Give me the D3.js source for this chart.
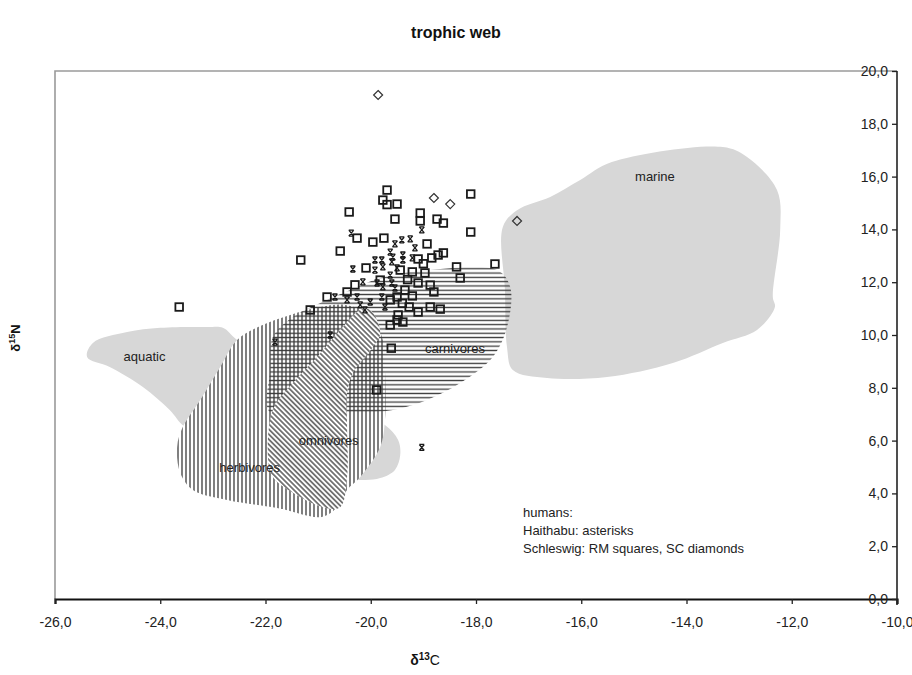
<!DOCTYPE html>
<html>
<head>
<meta charset="utf-8">
<script src="https://cdn.jsdelivr.net/npm/d3@7"></script>
<style>
  body { margin: 0; background: #fff; }
  text { font-family: Arial, "Liberation Sans", sans-serif; }
</style>
</head>
<body>
<div id="vis"></div>
<script>
// axis ticks
const x_ticks = [-26, -24, -22, -20, -18, -16, -14, -12, -10];
const y_ticks = [0, 2, 4, 6, 8, 10, 12, 14, 16, 18, 20];

// human samples [d13C, d15N]
const rm_squares = [
  [-19.69, 15.49], [-19.77, 15.11], [-19.69, 14.94], [-19.50, 14.96], [-20.41, 14.66],
  [-19.54, 14.39], [-19.06, 14.62], [-19.06, 14.32], [-18.74, 14.39], [-18.62, 14.24],
  [-18.10, 15.34], [-18.10, 13.90], [-19.96, 13.52], [-19.75, 13.67], [-20.58, 13.18],
  [-21.33, 12.84], [-20.26, 13.67], [-18.93, 13.45], [-18.62, 13.11], [-18.72, 13.03],
  [-18.37, 12.58], [-18.30, 12.16], [-17.64, 12.69], [-20.09, 12.54], [-19.10, 12.88],
  [-18.84, 12.92], [-19.21, 12.39], [-18.97, 12.35], [-20.83, 11.44], [-20.45, 11.63],
  [-18.80, 11.63], [-18.87, 11.89], [-19.10, 11.97], [-19.35, 11.70], [-19.21, 11.48],
  [-19.50, 11.44], [-21.15, 10.95], [-18.68, 10.98], [-18.87, 11.06], [-19.10, 10.87],
  [-19.27, 11.06], [-19.48, 10.76], [-19.50, 10.57], [-19.39, 10.49], [-19.63, 10.38],
  [-19.61, 9.50], [-23.64, 11.06], [-19.89, 7.92], [-19.82, 12.08], [-19.63, 11.33],
  [-19.44, 12.46], [-19.30, 12.10], [-19.00, 12.70], [-20.30, 11.90], [-19.40, 11.20]
];
const sc_diamonds = [
  [-19.86, 19.09], [-18.80, 15.19], [-18.49, 14.96], [-17.22, 14.32]
];
const haithabu_asterisks = [
  [-19.03, 13.98], [-20.37, 13.86], [-19.54, 13.45], [-19.41, 13.60], [-19.25, 13.64],
  [-19.16, 13.30], [-19.63, 13.14], [-19.39, 13.03], [-19.58, 12.95], [-19.92, 12.84],
  [-19.79, 12.84], [-19.60, 12.77], [-19.39, 12.84], [-19.21, 12.92], [-20.34, 12.50],
  [-19.92, 12.46], [-19.77, 12.58], [-19.50, 12.54], [-19.63, 12.27], [-20.15, 12.01],
  [-19.88, 11.97], [-19.77, 11.82], [-19.60, 11.97], [-20.68, 11.44], [-20.45, 11.33],
  [-20.26, 11.44], [-20.01, 11.25], [-19.79, 11.44], [-19.54, 11.78], [-20.20, 11.14],
  [-20.77, 10.00], [-20.11, 10.95], [-19.73, 11.06], [-21.82, 9.73], [-19.03, 5.74]
];

// food web areas (outlines in data units)
const marine = [
  [-15.42, 16.55], [-13.31, 17.12], [-12.85, 16.74], [-12.28, 15.49], [-12.22, 13.97],
  [-12.36, 11.44], [-12.32, 11.06], [-12.66, 10.19], [-13.31, 9.70], [-14.26, 8.94],
  [-15.51, 8.41], [-16.65, 8.37], [-17.30, 8.67], [-17.41, 9.53], [-17.45, 11.70],
  [-17.49, 14.09], [-17.22, 14.73], [-16.59, 15.23], [-16.02, 15.87]
];
const aquatic = [
  [-25.39, 9.17], [-25.28, 9.70], [-24.63, 10.11], [-24.00, 10.27], [-23.11, 10.30],
  [-22.81, 10.27], [-22.54, 9.81], [-21.34, 8.30], [-20.39, 7.16], [-19.73, 6.59],
  [-19.48, 6.02], [-19.44, 5.45], [-19.54, 4.89], [-19.82, 4.58], [-20.20, 4.51],
  [-21.34, 4.89], [-22.67, 5.83], [-23.53, 6.52], [-23.82, 7.16], [-24.33, 8.03],
  [-24.96, 8.79]
];
const herbivores = [
  [-22.54, 9.81], [-22.10, 10.34], [-21.53, 10.76], [-20.96, 11.06], [-20.49, 11.14],
  [-20.01, 10.76], [-19.77, 9.81], [-19.73, 8.67], [-19.73, 6.78], [-19.82, 5.76],
  [-20.20, 4.62], [-20.45, 4.13], [-20.64, 3.48], [-20.93, 3.11], [-21.78, 3.45],
  [-22.73, 3.75], [-23.38, 4.13], [-23.62, 4.77], [-23.68, 5.76], [-23.57, 6.52],
  [-23.24, 7.54], [-22.86, 8.79]
];
const carnivores = [
  [-21.91, 7.05], [-21.91, 8.67], [-21.86, 9.92], [-21.48, 10.68], [-20.83, 11.33],
  [-20.39, 11.70], [-19.82, 12.16], [-18.87, 12.46], [-17.60, 12.46], [-17.35, 11.82],
  [-17.41, 10.30], [-17.68, 9.17], [-18.30, 8.18], [-18.93, 7.54], [-19.58, 7.16],
  [-20.39, 7.05]
];
const omnivores = [
  [-20.20, 10.95], [-20.01, 10.95], [-19.82, 10.08], [-19.96, 9.55], [-20.34, 8.56],
  [-20.45, 7.80], [-20.45, 6.52], [-20.45, 4.62], [-20.58, 3.48], [-20.91, 3.48],
  [-21.48, 4.02], [-21.86, 4.62], [-21.95, 5.27], [-21.86, 7.16], [-21.48, 8.18],
  [-21.02, 9.17], [-20.53, 10.30]
];

const area_names = ["aquatic", "marine", "herbivores", "carnivores", "omnivores"];
const area_label_at = [[-24.3, 9.2], [-14.6, 16.0], [-22.3, 5.0], [-18.4, 9.5], [-20.8, 6.0]];

const legend_lines = ["humans:", "Haithabu: asterisks", "Schleswig: RM squares, SC diamonds"];

const frame_width = 912;
const frame_height = 675;
const margins = {left: 55, right: 15, top: 71, bottom: 76};

const x_scale = d3.scaleLinear()
    .domain([-26, -10])
    .range([margins.left, frame_width - margins.right]);
const y_scale = d3.scaleLinear()
    .domain([0, 20])
    .range([frame_height - margins.bottom, margins.top]);

const fmt = (d) => d.toFixed(1).replace(".", ",");

const svg = d3.select("#vis")
  .append("svg")
    .attr("width", frame_width)
    .attr("height", frame_height);

// hatch patterns
const defs = svg.append("defs");
function hatch(id, angle, gap) {
  const p = defs.append("pattern")
      .attr("id", id)
      .attr("patternUnits", "userSpaceOnUse")
      .attr("width", gap)
      .attr("height", gap)
      .attr("patternTransform", "rotate(" + angle + ")");
  p.append("line")
      .attr("x1", gap / 2).attr("x2", gap / 2)
      .attr("y1", 0).attr("y2", gap)
      .attr("stroke", "#3a3a3a")
      .attr("stroke-width", 1.3);
}
hatch("vert", 0, 4);
hatch("horiz", 90, 4.3);
hatch("diag", -45, 3.6);

const area_line = d3.line()
    .x((d) => x_scale(d[0]))
    .y((d) => y_scale(d[1]))
    .curve(d3.curveCatmullRomClosed.alpha(0.5));

// plot frame (top and left edges light)
svg.append("path")
    .attr("d", "M" + x_scale(-26) + "," + y_scale(0) + "V" + y_scale(20) + "H" + x_scale(-10))
    .attr("fill", "none")
    .attr("stroke", "#9a9a9a")
    .attr("stroke-width", 1.6);

svg.append("path").attr("d", area_line(aquatic)).attr("fill", "#d7d7d7");
svg.append("path").attr("d", area_line(marine)).attr("fill", "#d7d7d7");

svg.append("path").attr("d", area_line(herbivores)).attr("fill", "#fff");
svg.append("path").attr("d", area_line(herbivores)).attr("fill", "url(#vert)");
svg.append("path").attr("d", area_line(carnivores)).attr("fill", "url(#horiz)");
svg.append("path").attr("d", area_line(omnivores)).attr("fill", "#fff");
svg.append("path").attr("d", area_line(omnivores)).attr("fill", "url(#diag)");

svg.selectAll(".area-label")
  .data(area_names)
  .enter()
  .append("text")
    .attr("class", "area-label")
    .attr("x", (d, i) => x_scale(area_label_at[i][0]))
    .attr("y", (d, i) => y_scale(area_label_at[i][1]))
    .attr("dy", "0.35em")
    .attr("text-anchor", "middle")
    .attr("font-size", "13px")
    .attr("fill", "#222")
    .text((d) => d);

// axes
const x_axis = svg.append("g")
    .attr("transform", "translate(0," + y_scale(0) + ")")
    .call(d3.axisBottom(x_scale).tickValues(x_ticks).tickFormat(fmt).tickSize(5).tickPadding(13));
x_axis.select(".domain").attr("stroke", "#111").attr("stroke-width", 2.2);
x_axis.selectAll("line").attr("stroke", "#222").attr("stroke-width", 1.3);
x_axis.selectAll("text").attr("font-size", "14px").attr("fill", "#222")
    .attr("font-family", "Arial, 'Liberation Sans', sans-serif");

const y_axis = svg.append("g")
    .attr("transform", "translate(" + x_scale(-10) + ",0)")
    .call(d3.axisLeft(y_scale).tickValues(y_ticks).tickFormat(fmt).tickSize(5).tickPadding(4));
y_axis.select(".domain").remove();
y_axis.selectAll("line").attr("stroke", "#222").attr("stroke-width", 1.3);
y_axis.selectAll("text").attr("font-size", "14px").attr("fill", "#222")
    .attr("font-family", "Arial, 'Liberation Sans', sans-serif");
svg.append("line")
    .attr("x1", x_scale(-10)).attr("x2", x_scale(-10))
    .attr("y1", y_scale(20)).attr("y2", y_scale(0) + 6)
    .attr("stroke", "#222")
    .attr("stroke-width", 1.6);

// points
svg.selectAll(".sq")
  .data(rm_squares)
  .enter()
  .append("rect")
    .attr("class", "sq")
    .attr("x", (d) => x_scale(d[0]) - 3.8)
    .attr("y", (d) => y_scale(d[1]) - 3.8)
    .attr("width", 7.6)
    .attr("height", 7.6)
    .attr("fill", "none")
    .attr("stroke", "#1a1a1a")
    .attr("stroke-width", 1.8);

svg.selectAll(".dia")
  .data(sc_diamonds)
  .enter()
  .append("path")
    .attr("class", "dia")
    .attr("transform", (d) => "translate(" + x_scale(d[0]) + "," + y_scale(d[1]) + ")")
    .attr("d", "M0,-4.5L4.5,0L0,4.5L-4.5,0Z")
    .attr("fill", "none")
    .attr("stroke", "#333")
    .attr("stroke-width", 1.2);

svg.selectAll(".ast")
  .data(haithabu_asterisks)
  .enter()
  .append("path")
    .attr("class", "ast")
    .attr("transform", (d) => "translate(" + x_scale(d[0]) + "," + y_scale(d[1]) + ")")
    .attr("d", "M-2.5,-3L2.5,3M2.5,-3L-2.5,3M-2.5,-3H2.5M-2.5,3H2.5")
    .attr("fill", "none")
    .attr("stroke", "#1a1a1a")
    .attr("stroke-width", 1.3);

// legend
svg.selectAll(".legend")
  .data(legend_lines)
  .enter()
  .append("text")
    .attr("class", "legend")
    .attr("x", 523)
    .attr("y", (d, i) => 517 + i * 18)
    .attr("font-size", "13px")
    .attr("fill", "#222")
    .text((d) => d);

// titles
svg.append("text")
    .attr("x", 456)
    .attr("y", 38)
    .attr("text-anchor", "middle")
    .attr("font-size", "16px")
    .attr("font-weight", "bold")
    .attr("fill", "#111")
    .text("trophic web");

const xt = svg.append("text")
    .attr("x", 425)
    .attr("y", 665)
    .attr("text-anchor", "middle")
    .attr("font-family", "'Liberation Serif', 'Times New Roman', serif")
    .attr("font-size", "14px")
    .attr("fill", "#111");
xt.append("tspan").attr("font-weight", "bold").text("δ");
xt.append("tspan").attr("font-weight", "bold").attr("font-size", "10px").attr("dy", -5).text("13");
xt.append("tspan").attr("dy", 5).text("C");

const yt = svg.append("text")
    .attr("transform", "translate(20,338) rotate(-90)")
    .attr("text-anchor", "middle")
    .attr("font-family", "'Liberation Serif', 'Times New Roman', serif")
    .attr("font-size", "13px")
    .attr("font-weight", "bold")
    .attr("fill", "#111");
yt.append("tspan").text("δ");
yt.append("tspan").attr("font-size", "9px").attr("dy", -5).text("15");
yt.append("tspan").attr("dy", 5).text("N");
</script>
</body>
</html>
